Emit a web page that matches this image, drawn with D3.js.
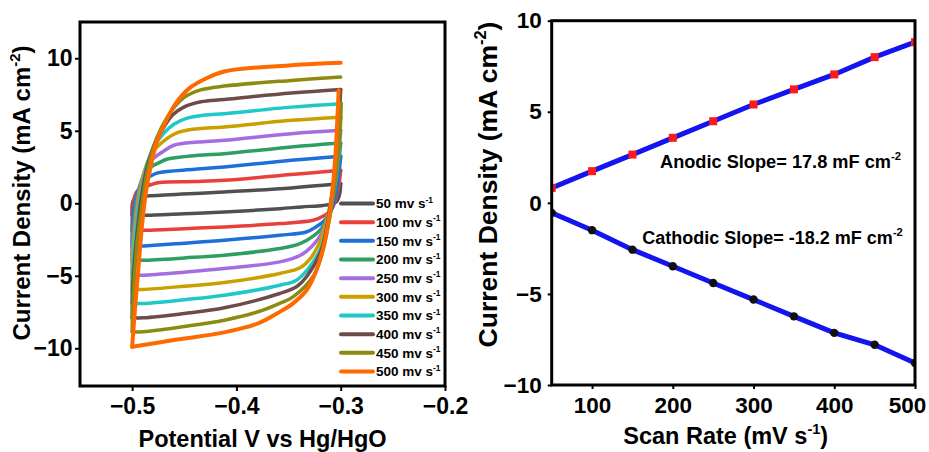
<!DOCTYPE html>
<html><head><meta charset="utf-8">
<script src="https://cdn.jsdelivr.net/npm/d3@7"></script>
<style>body{margin:0;background:#fff}svg{display:block}text{font-family:"Liberation Sans",Arial,sans-serif;font-weight:bold}</style>
</head><body><svg id="c" width="929" height="452"></svg>
<script>
// ---------- Left panel data: CV curves (V vs Hg/HgO, mA cm^-2) ----------
const scanRates = [50,100,150,200,250,300,350,400,450,500];
const cvColors = ["#505050","#e8413c","#1e6fd9","#2e9e62","#a56ee0","#c9a000","#1fc8c8","#6e4b4b","#8b8b10","#ff6a00"];
const up50  = [[-0.5,-0.83],[-0.4997,0.0],[-0.4975,0.35],[-0.49,0.46],[-0.481,0.52],[-0.4116,0.78],[-0.3473,1.06],[-0.3,1.36]];
const lo50  = [[-0.3,1.36],[-0.3012,0.6],[-0.304,0.12],[-0.309,-0.05],[-0.317,-0.15],[-0.3376,-0.25],[-0.3585,-0.37],[-0.4116,-0.6],[-0.45,-0.72],[-0.489,-0.83],[-0.5,-0.83]];
const up100 = [[-0.5,-1.86],[-0.4997,-0.6],[-0.4982,0.3],[-0.495,0.85],[-0.489,1.1],[-0.481,1.3],[-0.474,1.43],[-0.44,1.5],[-0.4116,1.58],[-0.3473,1.98],[-0.3,2.27]];
const lo100 = [[-0.3,2.27],[-0.3015,1.4],[-0.3045,0.4],[-0.309,-0.45],[-0.317,-0.9],[-0.3264,-1.17],[-0.3585,-1.4],[-0.4116,-1.63],[-0.45,-1.75],[-0.489,-1.86],[-0.5,-1.86]];
const up150 = [[-0.5,-2.94],[-0.4997,-1.4],[-0.498,-0.2],[-0.494,0.9],[-0.489,1.5],[-0.483,1.85],[-0.4755,2.1],[-0.44,2.34],[-0.4116,2.5],[-0.3473,2.96],[-0.3,3.24]];
const lo150 = [[-0.3,3.24],[-0.3018,2.0],[-0.305,0.5],[-0.3105,-0.7],[-0.317,-1.3],[-0.323,-1.6],[-0.333,-1.98],[-0.3585,-2.2],[-0.4116,-2.55],[-0.45,-2.75],[-0.489,-2.94],[-0.5,-2.94]];
const up200 = [[-0.5,-3.93],[-0.4997,-2.3],[-0.4975,-0.6],[-0.4935,1.0],[-0.489,1.9],[-0.482,2.5],[-0.474,2.8],[-0.466,3.05],[-0.437,3.31],[-0.4116,3.42],[-0.3473,3.88],[-0.3,4.15]];
const lo200 = [[-0.3,4.15],[-0.302,2.8],[-0.3055,1.0],[-0.311,-0.6],[-0.318,-1.7],[-0.326,-2.25],[-0.339,-2.78],[-0.3585,-3.12],[-0.4116,-3.58],[-0.45,-3.77],[-0.489,-3.93],[-0.5,-3.93]];
const up250 = [[-0.5,-4.96],[-0.4996,-3.0],[-0.497,-1.0],[-0.493,0.9],[-0.488,2.2],[-0.481,3.0],[-0.471,3.53],[-0.46,4.0],[-0.437,4.22],[-0.4116,4.34],[-0.3473,4.8],[-0.3,5.03]];
const lo250 = [[-0.3,5.03],[-0.302,3.5],[-0.3055,1.4],[-0.311,-0.5],[-0.3185,-2.1],[-0.328,-3.0],[-0.339,-3.6],[-0.3585,-4.04],[-0.4116,-4.5],[-0.45,-4.75],[-0.489,-4.96],[-0.5,-4.96]];
const up300 = [[-0.5,-5.94],[-0.4995,-3.8],[-0.4965,-1.3],[-0.4925,0.8],[-0.487,2.5],[-0.48,3.55],[-0.4695,4.3],[-0.4566,4.87],[-0.437,5.14],[-0.4116,5.26],[-0.3473,5.72],[-0.3,5.94]];
const lo300 = [[-0.3,5.94],[-0.302,4.2],[-0.3055,1.8],[-0.311,-0.4],[-0.3185,-2.4],[-0.329,-3.8],[-0.339,-4.45],[-0.3585,-4.84],[-0.4116,-5.46],[-0.45,-5.72],[-0.489,-5.94],[-0.5,-5.94]];
const up350 = [[-0.5,-6.91],[-0.4994,-4.6],[-0.496,-1.7],[-0.492,0.5],[-0.486,2.6],[-0.479,3.9],[-0.47,4.8],[-0.46,5.45],[-0.448,5.85],[-0.43,6.08],[-0.4116,6.18],[-0.3473,6.63],[-0.3,6.87]];
const lo350 = [[-0.3,6.87],[-0.302,4.8],[-0.3055,2.0],[-0.311,-0.6],[-0.3185,-3.0],[-0.331,-4.5],[-0.3424,-5.3],[-0.3585,-5.65],[-0.4116,-6.34],[-0.45,-6.65],[-0.489,-6.91],[-0.5,-6.91]];
const up400 = [[-0.5,-7.9],[-0.4993,-5.5],[-0.4955,-2.2],[-0.4915,0.2],[-0.486,2.4],[-0.479,4.0],[-0.47,5.2],[-0.461,6.1],[-0.45,6.65],[-0.434,7.0],[-0.4116,7.16],[-0.3473,7.6],[-0.3,7.85]];
const lo400 = [[-0.3,7.85],[-0.302,5.4],[-0.3055,2.3],[-0.311,-0.6],[-0.3185,-3.2],[-0.3328,-5.07],[-0.3424,-5.76],[-0.3585,-6.22],[-0.4116,-7.21],[-0.45,-7.6],[-0.489,-7.9],[-0.5,-7.9]];
const up450 = [[-0.5,-8.86],[-0.499,-6.5],[-0.4955,-3.0],[-0.491,-0.3],[-0.486,2.0],[-0.48,3.8],[-0.472,5.2],[-0.462,6.4],[-0.45,7.3],[-0.435,7.8],[-0.4116,8.08],[-0.3473,8.47],[-0.3,8.7]];
const lo450 = [[-0.2995,6.9],[-0.301,4.5],[-0.305,1.8],[-0.3105,-1.0],[-0.318,-3.5],[-0.326,-5.0],[-0.3457,-6.45],[-0.3585,-6.9],[-0.38,-7.5],[-0.4116,-8.06],[-0.45,-8.5],[-0.489,-8.86],[-0.5,-8.86]];
const up500 = [[-0.5,-9.9],[-0.4975,-7.5],[-0.494,-4.5],[-0.4905,-1.5],[-0.4865,0.9],[-0.482,2.6],[-0.4765,4.2],[-0.468,5.6],[-0.458,6.9],[-0.4453,7.92],[-0.4293,8.6],[-0.4116,9.09],[-0.3473,9.52],[-0.3,9.69]];
const lo500 = [[-0.302,7.8],[-0.3045,4.0],[-0.3075,1.2],[-0.311,-0.9],[-0.3165,-3.0],[-0.3245,-4.84],[-0.3328,-6.0],[-0.3457,-6.9],[-0.3585,-7.49],[-0.3795,-8.29],[-0.4116,-8.9],[-0.46,-9.43],[-0.5,-9.9]];
const cvUpper = [up50,up100,up150,up200,up250,up300,up350,up400,up450,up500];
const cvLower = [lo50,lo100,lo150,lo200,lo250,lo300,lo350,lo400,lo450,lo500];
const leftXTicks = [-0.5,-0.4,-0.3,-0.2];
const leftYTicks = [-10,-5,0,5,10];

// ---------- Right panel data ----------
const rate = [50,100,150,200,250,300,350,400,450,500];
const anodic = [0.82,1.74,2.65,3.57,4.48,5.4,6.23,7.05,8.0,8.82];
const cathodic = [-0.55,-1.5,-2.57,-3.48,-4.4,-5.31,-6.23,-7.14,-7.79,-8.79];
const rightXTicks = [100,200,300,400,500];
const rightYTicks = [-10,-5,0,5,10];

const svg = d3.select("#c");

function supText(g, x, y, parts, size, anchor, rot) {
  const t = g.append("text").attr("font-size", size).attr("text-anchor", anchor || "start")
    .attr("transform", `translate(${x},${y})` + (rot ? ` rotate(${rot})` : ""));
  let shifted = false;
  parts.forEach(([s, sup]) => {
    const ts = t.append("tspan").text(s);
    if (sup) { ts.attr("font-size", size * 0.62).attr("dy", -size * 0.42); shifted = true; }
    else if (shifted) { ts.attr("dy", size * 0.42); shifted = false; }
  });
  return t;
}

// ================= LEFT PANEL =================
const L = {x0: 80, x1: 445, y0: 22, y1: 386};
const xL = d3.scaleLinear().domain([-0.55, -0.2]).range([L.x0, L.x1]);
const yL = d3.scaleLinear().domain([-12.6, 12.5]).range([L.y1, L.y0]);
const gL = svg.append("g");

const lineL = d3.line().x(d => xL(d[0])).y(d => yL(d[1])).curve(d3.curveCatmullRom.alpha(0.5));
scanRates.forEach((r, i) => {
  [cvUpper[i], cvLower[i]].forEach(arr => {
    gL.append("path").attr("d", lineL(arr)).attr("fill", "none")
      .attr("stroke", cvColors[i]).attr("stroke-width", i === 9 ? 4 : 3.5)
      .attr("stroke-linejoin", "round").attr("stroke-linecap", "round");
  });
});

// legend
const legY = d3.scaleLinear().domain([0, 9]).range([203.5, 371.5]);
scanRates.forEach((r, i) => {
  const y = legY(i);
  gL.append("line").attr("x1", 341).attr("x2", 373).attr("y1", y).attr("y2", y)
    .attr("stroke", cvColors[i]).attr("stroke-width", 4).attr("stroke-linecap", "round");
  supText(gL, 376, y + 4.8, [[r + " mv s"], ["-1", true]], 13.5, "start");
});

// axes
const axLB = gL.append("g").attr("transform", `translate(0,${L.y1})`)
  .call(d3.axisBottom(xL).tickValues(leftXTicks).tickFormat(d3.format(".1f")).tickSize(5).tickSizeOuter(0).tickPadding(7));
const axLL = gL.append("g").attr("transform", `translate(${L.x0},0)`)
  .call(d3.axisLeft(yL).tickValues(leftYTicks).tickSize(5).tickSizeOuter(0).tickPadding(2.5));
[axLB, axLL].forEach(a => {
  a.select(".domain").remove();
  a.selectAll(".tick line").attr("stroke", "#000").attr("stroke-width", 2);
  a.selectAll(".tick text").attr("font-size", 23).attr("fill", "#000")
    .attr("font-family", '"Liberation Sans",Arial,sans-serif').attr("font-weight", "bold");
});
gL.append("rect").attr("x", L.x0).attr("y", L.y0).attr("width", L.x1 - L.x0).attr("height", L.y1 - L.y0)
  .attr("fill", "none").attr("stroke", "#000").attr("stroke-width", 3);
gL.append("text").attr("x", 262.5).attr("y", 447).attr("text-anchor", "middle").attr("font-size", 23.5)
  .text("Potential V vs Hg/HgO");
supText(gL, 30, 193, [["Current Density (mA cm"], ["-2", true], [")"]], 24, "middle", -90);

// ================= RIGHT PANEL =================
const R = {x0: 551.7, x1: 915, y0: 20.7, y1: 385};
const xR = d3.scaleLinear().domain([50, 500]).range([R.x0, R.x1]);
const yR = d3.scaleLinear().domain([-10, 10]).range([R.y1, R.y0]);
const gR = svg.append("g");
svg.append("defs").append("clipPath").attr("id", "clipR").append("rect")
  .attr("x", R.x0).attr("y", R.y0).attr("width", R.x1 - R.x0).attr("height", R.y1 - R.y0);
const plotR = gR.append("g").attr("clip-path", "url(#clipR)");
const lineR = d3.line().x(d => xR(d[0])).y(d => yR(d[1]));
const anoPts = rate.map((r, i) => [r, anodic[i]]);
const catPts = rate.map((r, i) => [r, cathodic[i]]);
[anoPts, catPts].forEach(p => plotR.append("path").attr("d", lineR(p)).attr("fill", "none")
  .attr("stroke", "#1414f0").attr("stroke-width", 5));
plotR.selectAll(".sq").data(anoPts).join("rect").attr("x", d => xR(d[0]) - 4).attr("y", d => yR(d[1]) - 4)
  .attr("width", 8).attr("height", 8).attr("fill", "#ff1a1a");
plotR.selectAll(".ci").data(catPts).join("circle").attr("cx", d => xR(d[0])).attr("cy", d => yR(d[1]))
  .attr("r", 4.2).attr("fill", "#111");

const axRB = gR.append("g").attr("transform", `translate(0,${R.y1})`)
  .call(d3.axisBottom(xR).tickValues(rightXTicks).tickSize(4).tickSizeOuter(0).tickPadding(8));
const axRL = gR.append("g").attr("transform", `translate(${R.x0},0)`)
  .call(d3.axisLeft(yR).tickValues(rightYTicks).tickSize(4).tickSizeOuter(0).tickPadding(6));
[axRB, axRL].forEach(a => {
  a.select(".domain").remove();
  a.selectAll(".tick line").attr("stroke", "#000").attr("stroke-width", 2);
  a.selectAll(".tick text").attr("font-size", 22.5).attr("fill", "#000")
    .attr("font-family", '"Liberation Sans",Arial,sans-serif').attr("font-weight", "bold");
});
axRB.selectAll(".tick text").filter(d => d === 500).attr("dx", -8);
gR.append("rect").attr("x", R.x0).attr("y", R.y0).attr("width", R.x1 - R.x0).attr("height", R.y1 - R.y0)
  .attr("fill", "none").attr("stroke", "#000").attr("stroke-width", 3);
supText(gR, 725.7, 443.5, [["Scan Rate (mV s"], ["-1", true], [")"]], 23.5, "middle");
supText(gR, 497, 184.5, [["Current Density (mA cm"], ["-2", true], [")"]], 26.5, "middle", -90);
supText(gR, 660, 168, [["Anodic Slope= 17.8 mF cm"], ["-2", true]], 18.2, "start");
supText(gR, 642.3, 244, [["Cathodic Slope= -18.2 mF cm"], ["-2", true]], 18, "start");
</script></body></html>
